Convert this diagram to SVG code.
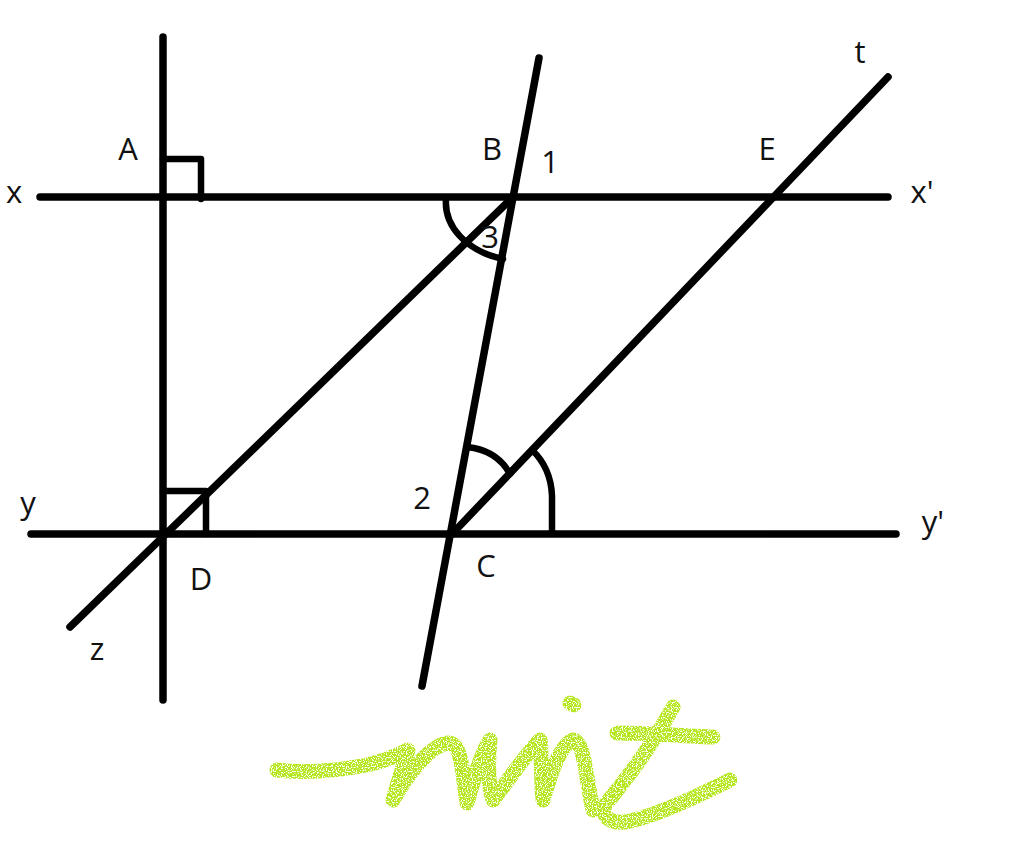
<svg xmlns="http://www.w3.org/2000/svg" width="1024" height="850" viewBox="0 0 1024 850">
<style>
.ln{stroke:#000;stroke-width:7.5;fill:none;stroke-linecap:round;stroke-linejoin:round}
.mk{stroke:#000;stroke-width:6.5;fill:none;stroke-linecap:round;stroke-linejoin:round}
.lb{font-family:"Open Sans","DejaVu Sans",sans-serif;font-size:31px;fill:#111;text-anchor:middle}
.sig{stroke:#b5e61d;stroke-width:15;fill:none;stroke-linecap:round;stroke-linejoin:round}
</style>
<defs>
<filter id="spray" x="-10%" y="-20%" width="120%" height="140%">
<feTurbulence type="fractalNoise" baseFrequency="0.8" numOctaves="1" seed="3" result="n"/>
<feColorMatrix in="n" type="matrix" values="0 0 0 0 0 0 0 0 0 0 0 0 0 0 0 0 0 0 -8 5" result="m"/>
<feComposite in="SourceGraphic" in2="m" operator="in"/>
</filter>
</defs>
<rect width="1024" height="850" fill="#fff"/>
<g id="lines">
<line id="line-AD" class="ln" x1="163" y1="37" x2="163" y2="700"/>
<line id="line-xx" class="ln" x1="40" y1="197" x2="888" y2="197"/>
<line id="line-yy" class="ln" x1="31" y1="534" x2="896" y2="534"/>
<line id="line-BC" class="ln" x1="539" y1="58" x2="422" y2="686"/>
<line id="line-zB" class="ln" x1="70" y1="627" x2="512" y2="198"/>
<line id="line-t" class="ln" x1="452" y1="534" x2="888" y2="77"/>
</g>
<g id="marks">
<path class="mk" d="M163,159 H201 V199"/>
<path class="mk" d="M163,491 H206 V534"/>
<path class="mk" d="M446,199 C444,226 466,251 503,259"/>
<path class="mk" d="M467,447 Q497,450 510,474"/>
<path class="mk" d="M552,532 L552,496 Q551,468 532,450"/>
</g>
<g id="labels">
<text class="lb" x="128" y="160">A</text>
<text class="lb" x="492" y="160">B</text>
<text class="lb" x="550" y="173">1</text>
<text class="lb" x="767" y="160">E</text>
<text class="lb" x="490" y="248">3</text>
<text class="lb" x="14" y="203">x</text>
<text class="lb" x="922" y="203">x'</text>
<text class="lb" x="28" y="514">y</text>
<text class="lb" x="933" y="533">y'</text>
<text class="lb" x="422" y="509">2</text>
<text class="lb" x="486" y="577">C</text>
<text class="lb" x="201" y="590">D</text>
<text class="lb" x="97" y="660">z</text>
<text class="lb" x="860" y="63">t</text>
</g>
<g id="signature" filter="url(#spray)">
<path class="sig" d="M277,770 C300,773 330,772 367,765 C385,761 398,755 408,750 C404,765 397,785 393,800 C402,784 425,748 447,743 C462,742 462,770 467,803 C472,785 480,755 490,740 C488,760 488,785 493,800 C505,785 525,755 540,740 C542,760 541,785 543,800 C550,775 560,745 573,740 C585,742 586,780 593,810"/>
<path class="sig" d="M673,707 C655,740 630,775 605,805 C600,815 610,824 625,822 C650,818 690,800 730,780"/>
<path class="sig" d="M617,733 C650,733 685,736 713,737"/>
<path class="sig" d="M570,703 L574,705"/>
</g>
</svg>
